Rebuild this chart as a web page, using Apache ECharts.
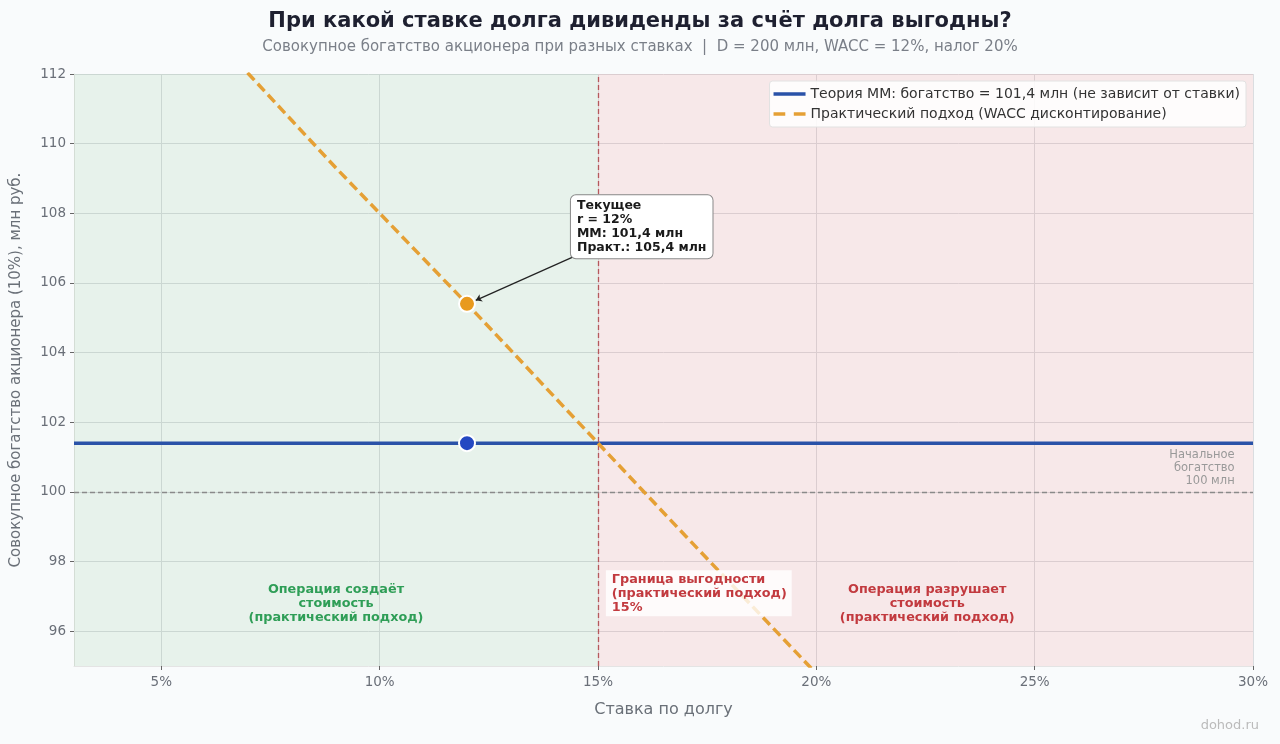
<!DOCTYPE html>
<html><head><meta charset="utf-8">
<script src="https://cdn.jsdelivr.net/npm/echarts@6/dist/echarts.min.js"></script>
<style>html,body{margin:0;padding:0;background:#F9FBFC;}#c{width:1280px;height:744px;}</style>
</head><body><div id="c"></div>
<script>
const xTicks = [5, 10, 15, 20, 25, 30];
const yTicks = [96, 98, 100, 102, 104, 106, 108, 110, 112];
const rates = [3, 4, 5, 6, 7, 8, 9, 10, 11, 12, 13, 14, 15, 16, 17, 18, 19, 20];
const practical = [117.4, 116.05, 114.7, 113.35, 112.0, 110.65, 109.3, 108.0, 106.7, 105.4, 104.07, 102.73, 101.4, 100.07, 98.74, 97.42, 96.1, 94.78];
const mmRates = [3, 30];
const mmValues = [101.4, 101.4];
const currentRate = 12;
const currentMM = 101.4;
const currentPractical = 105.4;
const breakEvenRate = 15;
const initialWealth = 100;

const FONT = 'DejaVu Sans';
const chart = echarts.init(document.getElementById('c'), null, {renderer: 'canvas'});

const practicalData = rates.map((r, i) => [r, practical[i]]);
const mmData = mmRates.map((r, i) => [r, mmValues[i]]);

const MM_NAME = 'Теория ММ: богатство = 101,4 млн (не зависит от ставки)';
const PR_NAME = 'Практический подход (WACC дисконтирование)';

chart.setOption({
  backgroundColor: '#F9FBFC',
  animation: false,
  textStyle: {fontFamily: FONT},
  title: [
    {text: 'При какой ставке долга дивиденды за счёт долга выгодны?', left: 'center', top: 6,
     textStyle: {fontFamily: FONT, fontSize: 21, fontWeight: 'bold', color: '#1E2030'}},
    {text: 'Совокупное богатство акционера при разных ставках  |  D = 200 млн, WACC = 12%, налог 20%', left: 'center', top: 35,
     textStyle: {fontFamily: FONT, fontSize: 15, fontWeight: 'normal', color: '#7A7F88'}}
  ],
  legend: {
    data: [
      {name: MM_NAME, icon: 'path://M0,0h32v3.5h-32z'},
      {name: PR_NAME, icon: 'path://M0,0h11v3.5h-11zM19,0h11v3.5h-11z'}
    ],
    orient: 'vertical', right: 34, top: 81, itemGap: 6, itemWidth: 32, itemHeight: 12,
    backgroundColor: 'rgba(255,255,255,0.85)', borderColor: '#E2E2E2', borderWidth: 1, borderRadius: 3,
    padding: [6, 6, 6, 4],
    textStyle: {fontFamily: FONT, fontSize: 14, color: '#333'}
  },
  grid: {left: 74, right: 27, top: 74, bottom: 78, containLabel: false},
  xAxis: {
    type: 'value', min: 3, max: 30,
    name: 'Ставка по долгу', nameLocation: 'middle', nameGap: 36,
    nameTextStyle: {fontFamily: FONT, fontSize: 16, color: '#6A7078'},
    axisLine: {show: true, lineStyle: {color: '#E4E4E4'}},
    axisTick: {show: true, length: 4, customValues: xTicks, lineStyle: {color: '#666'}},
    axisLabel: {customValues: xTicks, formatter: '{value}%', fontFamily: FONT, fontSize: 13.5, color: '#6A6F78', margin: 9},
    splitLine: {show: true, lineStyle: {color: '#DADDE0', width: 1}}
  },
  yAxis: {
    type: 'value', min: 95, max: 112,
    name: 'Совокупное богатство акционера (10%), млн руб.', nameLocation: 'middle', nameGap: 50, nameRotate: 90,
    nameTextStyle: {fontFamily: FONT, fontSize: 15, color: '#6A7078'},
    axisLine: {show: true, lineStyle: {color: '#E4E4E4'}},
    axisTick: {show: true, length: 4, customValues: yTicks, lineStyle: {color: '#666'}},
    axisLabel: {customValues: yTicks, fontFamily: FONT, fontSize: 13.5, color: '#6A6F78', margin: 8},
    splitLine: {show: true, lineStyle: {color: '#DADDE0', width: 1}}
  },
  series: [
    {
      name: MM_NAME,
      type: 'line', data: mmData, symbol: 'none', z: 4,
      lineStyle: {color: '#2A52A8', width: 3.5},
      itemStyle: {color: '#2A52A8'},
      markArea: {
        silent: true,
        data: [
          [{xAxis: 3, itemStyle: {color: 'rgba(79,171,92,0.1)'}}, {xAxis: breakEvenRate}],
          [{xAxis: breakEvenRate, itemStyle: {color: 'rgba(239,71,72,0.1)'}}, {xAxis: 30}]
        ]
      },
      markLine: {
        silent: true, symbol: 'none', animation: false,
        label: {show: false},
        data: [
          {xAxis: breakEvenRate, lineStyle: {color: '#B5585C', type: [5, 3], width: 1.3}},
          {yAxis: initialWealth, lineStyle: {color: '#8A8A8A', type: [5, 3], width: 1.3}}
        ]
      }
    },
    {
      name: PR_NAME,
      type: 'line', data: practicalData, symbol: 'none', z: 5, clip: true,
      lineStyle: {color: '#E5A035', width: 3.5, type: [10, 5]},
      itemStyle: {color: '#E5A035'},
      markLine: {
        silent: true, symbol: ['arrow', 'none'], symbolSize: 6, animation: false,
        label: {show: false},
        lineStyle: {color: '#222', type: 'solid', width: 1.2},
        data: [[{coord: [12.2, 105.5]}, {coord: [14.42, 106.74]}]]
      }
    },
    {
      type: 'scatter', z: 8, symbolSize: 16,
      data: [[currentRate, currentPractical]],
      itemStyle: {color: '#E89A1E', borderColor: '#FFFFFF', borderWidth: 2, opacity: 1}
    },
    {
      type: 'scatter', z: 8, symbolSize: 16,
      data: [[currentRate, currentMM]],
      itemStyle: {color: '#2448C2', borderColor: '#FFFFFF', borderWidth: 2, opacity: 1}
    },
    {
      type: 'scatter', z: 9, symbolSize: 0, silent: true,
      itemStyle: {opacity: 1},
      data: [
        {value: [14.38, 108.52], label: {show: true, position: [0, 0], align: 'left', verticalAlign: 'top',
          formatter: 'Текущее\nr = 12%\nММ: 101,4 млн\nПракт.: 105,4 млн',
          fontFamily: FONT, fontSize: 12.5, fontWeight: 'bold', color: '#1A1A1A', lineHeight: 14,
          backgroundColor: '#FFFFFF', borderColor: '#888', borderWidth: 1, borderRadius: 5, padding: [4, 6, 3, 6]}},
        {value: [9.0, 96.8], label: {show: true, position: [0, 0], align: 'center', verticalAlign: 'middle',
          formatter: 'Операция создаёт\nстоимость\n(практический подход)',
          fontFamily: FONT, fontSize: 12.8, fontWeight: 'bold', color: '#2F9E57', lineHeight: 14}},
        {value: [22.54, 96.8], label: {show: true, position: [0, 0], align: 'center', verticalAlign: 'middle',
          formatter: 'Операция разрушает\nстоимость\n(практический подход)',
          fontFamily: FONT, fontSize: 12.8, fontWeight: 'bold', color: '#C23A3F', lineHeight: 14}},
        {value: [15.18, 97.75], label: {show: true, position: [0, 0], align: 'left', verticalAlign: 'top',
          formatter: 'Граница выгодности\n(практический подход)\n15%',
          fontFamily: FONT, fontSize: 12.8, fontWeight: 'bold', color: '#C23A3F', lineHeight: 14,
          backgroundColor: 'rgba(255,255,255,0.8)', padding: [2, 5, 2, 6]}},
        {value: [29.58, 100.12], label: {show: true, position: [0, 0], align: 'right', verticalAlign: 'bottom',
          formatter: 'Начальное\nбогатство\n100 млн',
          fontFamily: FONT, fontSize: 11.5, color: '#999', lineHeight: 13}}
      ]
    }
  ],
  graphic: [
    {type: 'text', right: 21, top: 719, style: {text: 'dohod.ru', fontFamily: FONT, fontSize: 13, fill: '#BBBBBB'}}
  ]
});
</script></body></html>
